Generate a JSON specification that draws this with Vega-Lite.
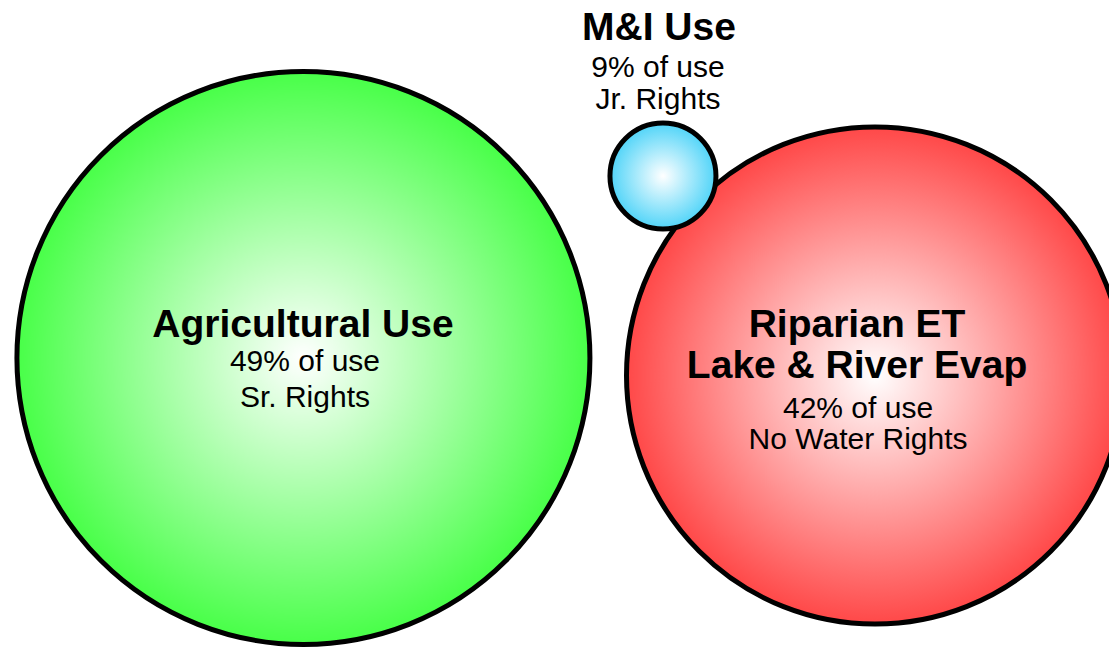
{
  "$schema": "https://vega.github.io/schema/vega-lite/v6.json",
  "width": 1109,
  "height": 649,
  "autosize": {"type": "none"},
  "padding": 0,
  "background": "white",
  "config": {"view": {"stroke": null}, "font": "Liberation Sans"},
  "data": {
    "values": [
      {"use": "Agricultural Use", "title": "Agricultural Use", "share": 49, "share_label": "49% of use", "rights": "Sr. Rights", "cx": 27.36, "cy": 44.84, "title_x": 27.32, "title_y": 48.07, "detail_x": 27.5, "share_y": 42.84, "rights_y": 37.29},
      {"use": "Riparian ET", "title": "Riparian ET\nLake & River Evap", "share": 42, "share_label": "42% of use", "rights": "No Water Rights", "cx": 78.9, "cy": 42.14, "title_x": 77.28, "title_y": 48.07, "detail_x": 77.37, "share_y": 35.59, "rights_y": 30.82},
      {"use": "M&I Use", "title": "M&I Use", "share": 9, "share_label": "9% of use", "rights": "Jr. Rights", "cx": 59.78, "cy": 72.88, "title_x": 59.42, "title_y": 93.84, "detail_x": 59.33, "share_y": 88.14, "rights_y": 83.2}
    ]
  },
  "encoding": {
    "x": {"field": "cx", "type": "quantitative", "scale": {"domain": [0, 100], "nice": false}, "axis": null},
    "y": {"field": "cy", "type": "quantitative", "scale": {"domain": [0, 100], "nice": false}, "axis": null},
    "size": {"field": "share", "type": "quantitative", "scale": {"domain": [9, 42, 49], "range": [11236, 247009, 328329], "zero": false}, "legend": null}
  },
  "layer": [
    {
      "transform": [{"filter": "datum.use === 'Agricultural Use'"}],
      "mark": {"type": "circle", "opacity": 1, "fillOpacity": 1, "stroke": "black", "strokeWidth": 5,
        "fill": {"gradient": "radial", "x1": 0.5, "y1": 0.5, "r1": 0, "x2": 0.5, "y2": 0.5, "r2": 0.5,
          "stops": [{"offset": 0, "color": "#ffffff"}, {"offset": 1, "color": "#48ff48"}]}}
    },
    {
      "transform": [{"filter": "datum.use === 'Riparian ET'"}],
      "mark": {"type": "circle", "opacity": 1, "fillOpacity": 1, "stroke": "black", "strokeWidth": 5,
        "fill": {"gradient": "radial", "x1": 0.5, "y1": 0.5, "r1": 0, "x2": 0.5, "y2": 0.5, "r2": 0.5,
          "stops": [{"offset": 0, "color": "#ffffff"}, {"offset": 1, "color": "#ff4848"}]}}
    },
    {
      "transform": [{"filter": "datum.use === 'M&I Use'"}],
      "mark": {"type": "circle", "opacity": 1, "fillOpacity": 1, "stroke": "black", "strokeWidth": 5,
        "fill": {"gradient": "radial", "x1": 0.5, "y1": 0.5, "r1": 0, "x2": 0.5, "y2": 0.5, "r2": 0.5,
          "stops": [{"offset": 0, "color": "#ffffff"}, {"offset": 1, "color": "#50d4f8"}]}}
    },
    {
      "mark": {"type": "text", "font": "Liberation Sans", "fontSize": 39, "fontWeight": "bold", "align": "center", "baseline": "alphabetic", "lineBreak": "\n", "lineHeight": 41, "color": "black"},
      "encoding": {
        "x": {"field": "title_x", "type": "quantitative"},
        "y": {"field": "title_y", "type": "quantitative"},
        "size": null,
        "text": {"field": "title"}
      }
    },
    {
      "mark": {"type": "text", "font": "Liberation Sans", "fontSize": 30, "align": "center", "baseline": "alphabetic", "color": "black"},
      "encoding": {
        "x": {"field": "detail_x", "type": "quantitative"},
        "y": {"field": "share_y", "type": "quantitative"},
        "size": null,
        "text": {"field": "share_label"}
      }
    },
    {
      "mark": {"type": "text", "font": "Liberation Sans", "fontSize": 30, "align": "center", "baseline": "alphabetic", "color": "black"},
      "encoding": {
        "x": {"field": "detail_x", "type": "quantitative"},
        "y": {"field": "rights_y", "type": "quantitative"},
        "size": null,
        "text": {"field": "rights"}
      }
    }
  ]
}
